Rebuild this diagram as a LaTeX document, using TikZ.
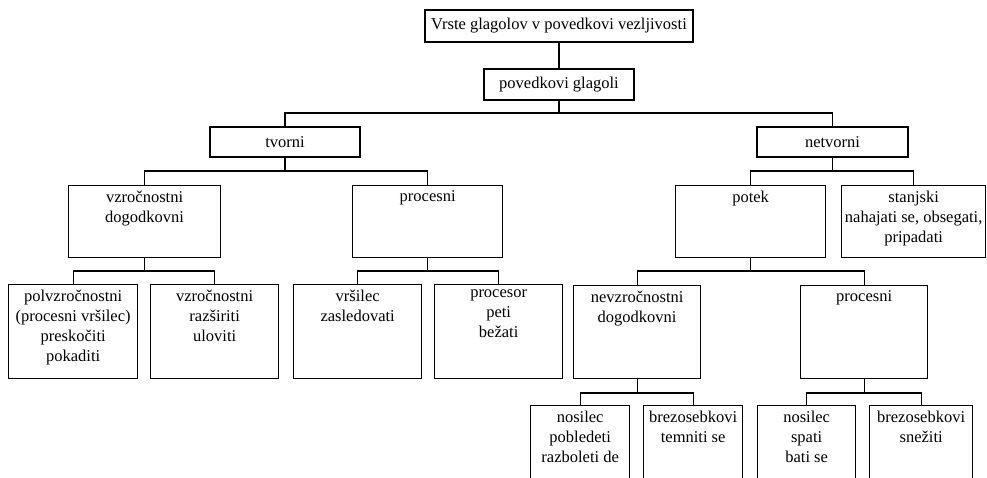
\documentclass[tikz,border=0pt]{standalone}
\usepackage{fontspec}
\setmainfont{Liberation Serif}
% fixed-size cell with its lines stacked from the top
\newcommand{\cellbox}[3]{\parbox[t][#2pt][t]{#1pt}{\centering\vspace*{5pt}#3\par}}
\begin{document}
\begin{tikzpicture}[x=1pt,y=-1pt,
  every node/.style={font=\fontsize{16.5}{20}\selectfont},
  box/.style={draw, line width=1.3pt, rectangle, inner sep=0pt},
  cell/.style={box, anchor=north west},
  link/.style={line width=1.2pt}]
\useasboundingbox (0,0) rectangle (987,477);
\clip (0,0) rectangle (987,477);
\fill[white] (0,0) rectangle (987,477);

% bus levels of the tree
\coordinate (busA) at (0,113);
\coordinate (busB) at (0,171);
\coordinate (busC) at (0,271);
\coordinate (busD) at (0,393);

% level 0 and 1
\node[box, minimum width=268pt, minimum height=32pt] (root) at (559,26) {Vrste glagolov v povedkovi vezljivosti};
\node[box, minimum width=150pt, minimum height=31pt] (pg) at (559,84.5) {povedkovi glagoli};

% level 2
\node[box, minimum width=150pt, minimum height=30pt] (tvorni) at (285,142) {tvorni};
\node[box, minimum width=151pt, minimum height=30pt] (netvorni) at (832.5,142) {netvorni};

% level 3
\node[cell] (vzdog) at (68,185) {\cellbox{152}{72}{vzročnostni\\dogodkovni}};
\node[cell] (proca) at (352,185) {\cellbox{150}{72}{procesni}};
\node[cell] (potek) at (675,185) {\cellbox{150}{72}{potek}};
\node[cell] (stanj) at (841,185) {\cellbox{144}{72}{stanjski\\nahajati se, obsegati,\\pripadati}};

% level 4
\node[cell] (polvzr) at (8,284) {\cellbox{129}{94}{polvzročnostni\\(procesni vršilec)\\preskočiti\\pokaditi}};
\node[cell] (vzr) at (150,284) {\cellbox{128}{94}{vzročnostni\\razširiti\\uloviti}};
\node[cell] (vrs) at (293,284) {\cellbox{128}{94}{vršilec\\zasledovati}};
\node[cell] (procesor) at (434,284) {\cellbox{128}{94}{procesor\\peti\\bežati}};
\node[cell] (nevzr) at (573,285) {\cellbox{127}{93}{nevzročnostni\\dogodkovni}};
\node[cell] (procb) at (800,285) {\cellbox{127}{93}{procesni}};

% level 5
\node[cell] (nosa) at (530,405) {\cellbox{99}{90}{nosilec\\pobledeti\\razboleti de}};
\node[cell] (breza) at (643,405) {\cellbox{99}{90}{brezosebkovi\\temniti se}};
\node[cell] (nosb) at (757,405) {\cellbox{98}{90}{nosilec\\spati\\bati se}};
\node[cell] (brezb) at (869,405) {\cellbox{103}{90}{brezosebkovi\\snežiti}};

% connectors
\draw[link] (root.south) -- (pg.north);
\draw[link] (pg.south) -- (pg.south |- busA) -| (tvorni.north);
\draw[link] (pg.south |- busA) -| (netvorni.north);

\draw[link] (tvorni.south) -- (tvorni.south |- busB) -| (vzdog.north);
\draw[link] (tvorni.south |- busB) -| (proca.north);
\draw[link] (netvorni.south) -- (netvorni.south |- busB) -| (potek.north);
\draw[link] (netvorni.south |- busB) -| (stanj.north);

\draw[link] (vzdog.south) -- (vzdog.south |- busC) -| (polvzr.north);
\draw[link] (vzdog.south |- busC) -| (vzr.north);
\draw[link] (proca.south) -- (proca.south |- busC) -| (vrs.north);
\draw[link] (proca.south |- busC) -| (procesor.north);
\draw[link] (potek.south) -- (potek.south |- busC) -| (nevzr.north);
\draw[link] (potek.south |- busC) -| (procb.north);

\draw[link] (nevzr.south) -- (nevzr.south |- busD) -| (nosa.north);
\draw[link] (nevzr.south |- busD) -| (breza.north);
\draw[link] (procb.south) -- (procb.south |- busD) -| (nosb.north);
\draw[link] (procb.south |- busD) -| (brezb.north);
\end{tikzpicture}
\end{document}
